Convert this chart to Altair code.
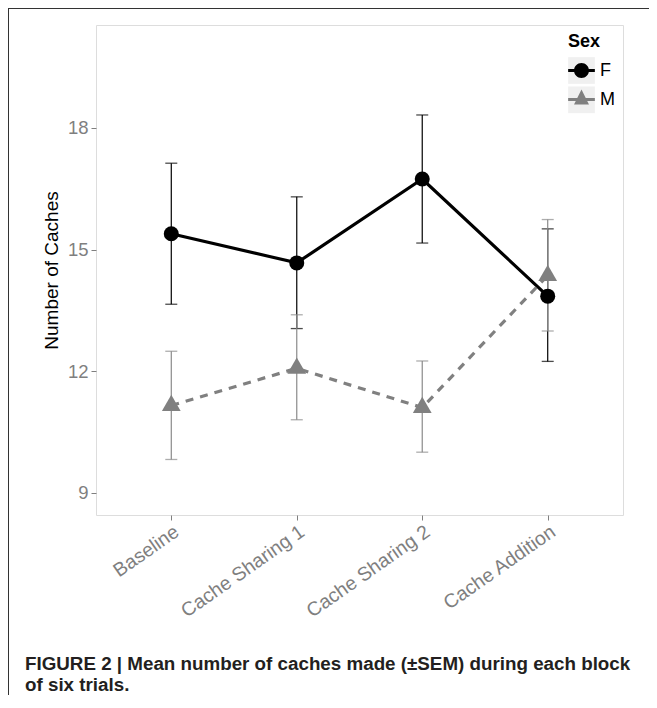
import altair as alt
import pandas as pd

blocks = ["Baseline", "Cache Sharing 1", "Cache Sharing 2", "Cache Addition"]
f_mean = [15.39, 14.67, 16.74, 13.85]
f_lo = [13.65, 13.05, 15.16, 12.24]
f_hi = [17.13, 16.30, 18.32, 15.51]
m_mean = [11.15, 12.07, 11.10, 14.36]
m_lo = [9.82, 10.80, 10.00, 12.99]
m_hi = [12.49, 13.39, 12.25, 15.74]
sexes = ["F", "M"]
key_ids = ["F_key", "M_key"]
y_ticks = [9, 12, 15, 18]
caption = ["FIGURE 2 | Mean number of caches made (±SEM) during each block", "of six trials."]

df_f = pd.DataFrame({"block": blocks, "mean": f_mean, "lo": f_lo, "hi": f_hi, "sex": "F"})
df_m = pd.DataFrame({"block": blocks, "mean": m_mean, "lo": m_lo, "hi": m_hi, "sex": "M"})
df_all = pd.concat([df_f, df_m], ignore_index=True)
df_all["key"] = df_all["sex"] + "_key"

FONT = "Liberation Sans"
GREY = "#808080"

xscale = alt.Scale(domain=blocks, type="point", padding=0.6)
yscale = alt.Scale(domain=[8.45, 20.54], nice=False, zero=False)
xaxis = alt.Axis(title=None, labelAngle=325, labelAlign="right", labelBaseline="top",
                 labelFontSize=19.5, labelColor="#7f7f7f", tickColor="#7f7f7f",
                 tickSize=5, labelPadding=2, domain=False, grid=False, labelFont=FONT)
yaxis = alt.Axis(title="Number of Caches", values=y_ticks, labelFontSize=18.5,
                 labelColor="#7f7f7f", tickColor="#7f7f7f", tickSize=5, labelPadding=3,
                 domain=False, grid=False, titleFontSize=19, titleFontWeight="normal",
                 titleColor="black", titlePadding=6, labelFont=FONT, titleFont=FONT)


def X():
    return alt.X("block:N", sort=blocks, scale=xscale, axis=xaxis)


def Y(field):
    return alt.Y(f"{field}:Q", scale=yscale, axis=yaxis)


line_f = alt.Chart(df_f).mark_line(color="black", strokeWidth=3.2).encode(x=X(), y=Y("mean"))
line_m = alt.Chart(df_m).mark_line(color=GREY, strokeWidth=3.2, strokeDash=[8, 7]).encode(x=X(), y=Y("mean"))


def errbars(df, color):
    base = alt.Chart(df)
    r = base.mark_rule(color=color, strokeWidth=1.2).encode(x=X(), y=Y("lo"), y2="hi:Q")
    t1 = base.mark_tick(color=color, thickness=1.3, size=12).encode(x=X(), y=Y("lo"))
    t2 = base.mark_tick(color=color, thickness=1.3, size=12).encode(x=X(), y=Y("hi"))
    return [r, t1, t2]


tri = "M0,-1L0.866,0.5L-0.866,0.5Z"
pts_f = alt.Chart(df_f).mark_point(shape="circle", filled=True, color="black", size=225, opacity=1).encode(x=X(), y=Y("mean"))
pts_m = alt.Chart(df_m).mark_point(shape=tri, filled=True, color=GREY, size=470, opacity=1).encode(x=X(), y=Y("mean"))

legend_f = ("M-1,-0.11L1,-0.11L1,0.11L-1,0.11Z "
            "M-0.56,0A0.56,0.56 0 1,1 0.56,0A0.56,0.56 0 1,1 -0.56,0Z")
legend_m = ("M-1,-0.11L1,-0.11L1,0.11L-1,0.11Z "
            "M0,-0.75L0.56,0.375L-0.56,0.375Z")

leg = alt.Legend(title="Sex", orient="none", legendX=472, legendY=8,
                 titleFontSize=18, titleFontWeight="bold", titleColor="black",
                 labelFontSize=18, labelColor="black", symbolSize=713,
                 symbolStrokeWidth=0, labelOffset=5, rowPadding=6,
                 titlePadding=6, titleFont=FONT, labelFont=FONT, zindex=2)

legend_layer = alt.Chart(df_all).transform_filter("false").mark_point(filled=True, opacity=1).encode(
    color=alt.Color("sex:N", scale=alt.Scale(domain=sexes, range=["black", GREY]), legend=leg),
    shape=alt.Shape("sex:N", scale=alt.Scale(domain=sexes, range=[legend_f, legend_m]), legend=leg),
)

leg_bg = alt.Legend(title="Sex", orient="none", legendX=472, legendY=8,
                    titleFontSize=18, titleFontWeight="bold", titleColor="transparent",
                    labelFontSize=18, labelColor="transparent", labelExpr="''", symbolSize=713,
                    symbolType="square", symbolStrokeWidth=0, labelOffset=5, rowPadding=2.3,
                    titlePadding=6, titleFont=FONT, labelFont=FONT, zindex=1)

legend_bg_layer = alt.Chart(df_all).transform_filter("false").mark_point(filled=True, opacity=1, shape="square").encode(
    fill=alt.Fill("key:N", scale=alt.Scale(domain=key_ids, range=["#f0f0f0", "#f0f0f0"]), legend=leg_bg),
)

frame_df = pd.DataFrame({"k": [0]})
frame_top = alt.Chart(frame_df).mark_rule(color="#333333", strokeWidth=1).encode(
    x=alt.value(-88), x2=alt.value(575), y=alt.value(-16.5))
frame_left = alt.Chart(frame_df).mark_rule(color="#333333", strokeWidth=1).encode(
    x=alt.value(-87.5), y=alt.value(-17), y2=alt.value(700))

caption_df = pd.DataFrame({"text": ["\n".join(caption)]})
caption_mark = alt.Chart(caption_df).mark_text(
    align="left", baseline="alphabetic", fontSize=18.8, fontWeight="bold",
    color="#231f20", font=FONT, lineBreak="\n", lineHeight=21,
).encode(x=alt.value(-71), y=alt.value(645), text="text:N")

layers = ([frame_top, frame_left, line_f, line_m] + errbars(df_f, "black") + errbars(df_m, "#8a8a8a")
          + [pts_f, pts_m, legend_bg_layer, legend_layer, caption_mark])

chart = alt.layer(*layers).resolve_legend(fill="independent").properties(
    width=527, height=490,
    autosize=alt.AutoSizeParams(type="none"),
    padding={"left": 88, "top": 17, "right": 26, "bottom": 180},
).configure_view(stroke="#7a7a7a", strokeWidth=1).configure(font=FONT)

chart.save("out.html", embed_options={"renderer": "svg", "actions": False})
